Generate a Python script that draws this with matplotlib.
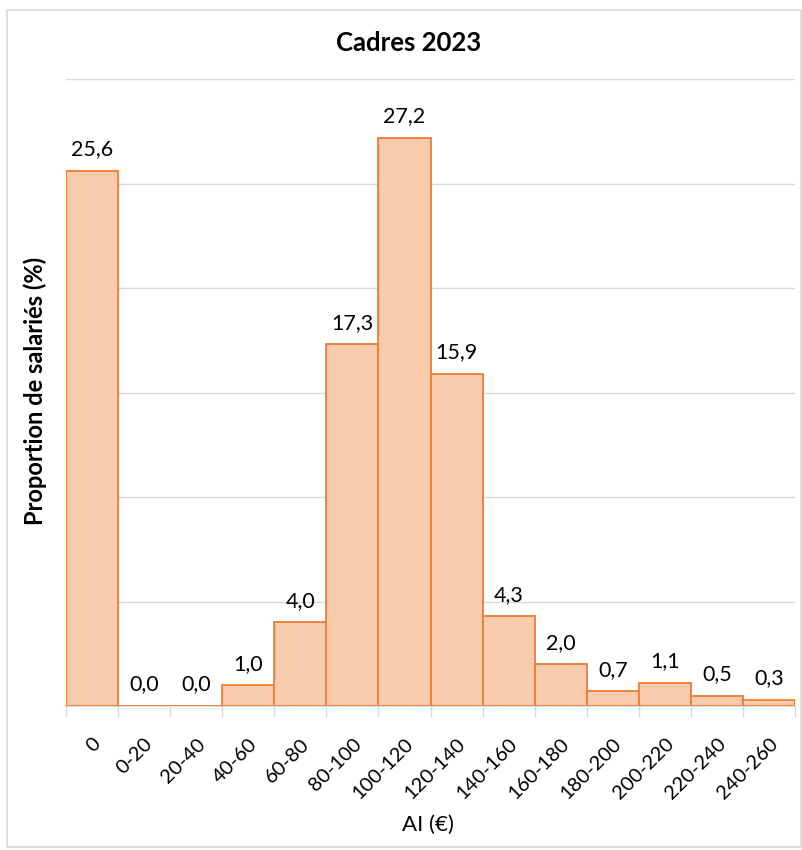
import numpy as np
from matplotlib import pyplot as plt
from matplotlib.patches import Rectangle

# Données
categories = ["0", "0-20", "20-40", "40-60", "60-80", "80-100", "100-120", "120-140",
              "140-160", "160-180", "180-200", "200-220", "220-240", "240-260"]
valeurs = [25.6, 0.0, 0.0, 1.0, 4.0, 17.3, 27.2, 15.9, 4.3, 2.0, 0.7, 1.1, 0.5, 0.3]

plt.rcParams['font.family'] = ['Lato', 'DejaVu Sans']

fig = plt.figure(figsize=(8.02, 8.5), dpi=100)
ax = fig.add_axes([0.0823, 0.1694, 0.909, 0.7376])

x = np.arange(len(categories))
ax.bar(x, valeurs, width=1.0, color="#F8CBAD", edgecolor="#ED7D31", linewidth=1.3, zorder=3)

for xi, v in zip(x, valeurs):
    ax.text(xi, v + 0.55, f"{v:.1f}".replace(".", ","), ha="center", va="bottom", fontsize=15.5)

ax.set_xlim(-0.5, len(categories) - 0.5)
ax.set_ylim(0, 30)
ax.set_yticks(np.arange(0, 31, 5))
ax.yaxis.grid(True, color="#D9D9D9", linewidth=1, zorder=0)
ax.tick_params(axis="y", length=0, labelleft=False)

ax.set_xticks(x)
ax.set_xticklabels(categories, rotation=45, ha="right", rotation_mode="anchor", fontsize=14.5)
ax.tick_params(axis="x", which="major", length=0, pad=21)
ax.set_xticks(np.arange(-0.5, len(categories), 1.0), minor=True)
ax.tick_params(axis="x", which="minor", length=8, color="#D9D9D9", width=1)

for s in ["top", "right", "left"]:
    ax.spines[s].set_visible(False)
ax.spines["bottom"].set_color("#D9D9D9")
ax.spines["bottom"].set_linewidth(1.2)

fig.text(0.509, 0.949, "Cadres 2023", ha="center", va="center", fontsize=18.5, fontweight="bold")
fig.text(0.044, 0.54, "Proportion de salariés (%)", ha="center", va="center", rotation=90,
         fontsize=17, fontweight="bold")
fig.text(0.534, 0.029, "AI (€)", ha="center", va="center", fontsize=16)

fig.patches.append(Rectangle((0.009, 0.003), 0.99, 0.985, transform=fig.transFigure,
                             fill=False, edgecolor="#D9D9D9", linewidth=1.2))

plt.savefig("out.png", dpi=100)
